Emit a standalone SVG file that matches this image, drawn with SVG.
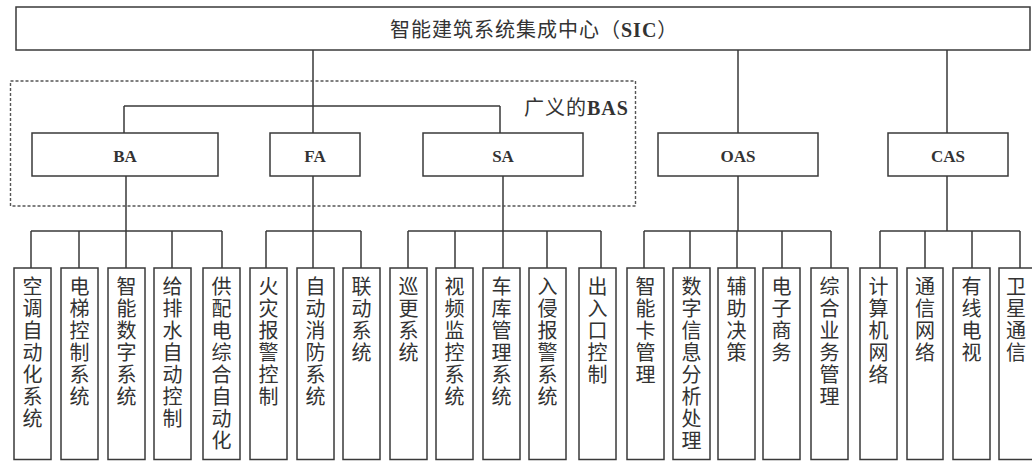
<svg xmlns="http://www.w3.org/2000/svg" width="1032" height="461" viewBox="0 0 1032 461">
<style>
.box{fill:#fff;stroke:#3a3a3a;stroke-width:1.5}
.dash{fill:none;stroke:#555;stroke-width:1.4;stroke-dasharray:3 2}
.ln{fill:none;stroke:#3a3a3a;stroke-width:1.5}
.lat{font-family:'Liberation Serif','Noto Sans CJK SC',serif;font-weight:bold;font-size:17px;fill:#333;text-anchor:middle}
.cjk{font-family:'Noto Sans CJK SC',sans-serif;font-size:20px;fill:#333;writing-mode:vertical-rl;letter-spacing:2px}
.title{font-family:'Liberation Serif','Noto Sans CJK SC',serif;font-size:20px;fill:#333}
</style>
<rect width="1032" height="461" fill="#fff"/>
<g id="connectors">
<path class="ln" d="M313 50V133M124 106H500M124 106V133M500 106V133M738 50V133M947 50V133"/>
<path class="ln" d="M126 176V231M31 231H222M31 231V268M79 231V268M126 231V268M172 231V268M222 231V268"/>
<path class="ln" d="M313 176V231M266 231H361M266 231V268M313 231V268M361 231V268"/>
<path class="ln" d="M503 176V231M408 231H601M408 231V268M455 231V268M503 231V268M547 231V268M601 231V268"/>
<path class="ln" d="M738 176V231M644 231H831M644 231V268M690 231V268M737 231V268M782 231V268M831 231V268"/>
<path class="ln" d="M947 176V231M880 231H1020M880 231V268M925 231V268M972 231V268M1020 231V268"/>
</g>
<g id="sic"><rect class="box" x="16" y="7" width="1014" height="43"/>
<text class="title" x="390" y="37" letter-spacing="1">智能建筑系统集成中心（<tspan font-weight="bold">SIC</tspan>）</text></g>
<g id="bas-group"><rect class="dash" x="10.5" y="81" width="625" height="125"/>
<text class="title" x="524" y="115" font-size="19" letter-spacing="1">广义的<tspan font-weight="bold">BAS</tspan></text></g>
<g id="ba"><rect class="box" x="32" y="133" width="186" height="43"/><text class="lat" x="125" y="162">BA</text></g>
<g id="fa"><rect class="box" x="270" y="133" width="90" height="43"/><text class="lat" x="315" y="162">FA</text></g>
<g id="sa"><rect class="box" x="423" y="133" width="160" height="43"/><text class="lat" x="503" y="162">SA</text></g>
<g id="oas"><rect class="box" x="658" y="133" width="160" height="43"/><text class="lat" x="738" y="162">OAS</text></g>
<g id="cas"><rect class="box" x="888" y="133" width="120" height="43"/><text class="lat" x="948" y="162">CAS</text></g>

<g id="n1"><rect class="box" x="14" y="268" width="37" height="191.5"/><text class="cjk" x="32.5" y="276">空调自动化系统</text></g>
<g id="n2"><rect class="box" x="61" y="268" width="37" height="191.5"/><text class="cjk" x="79.5" y="276">电梯控制系统</text></g>
<g id="n3"><rect class="box" x="108" y="268" width="37" height="191.5"/><text class="cjk" x="126.5" y="276">智能数字系统</text></g>
<g id="n4"><rect class="box" x="154" y="268" width="37" height="191.5"/><text class="cjk" x="172.5" y="276">给排水自动控制</text></g>
<g id="n5"><rect class="box" x="203" y="268" width="37" height="191.5"/><text class="cjk" x="221.5" y="276">供配电综合自动化</text></g>
<g id="n6"><rect class="box" x="250" y="268" width="37" height="191.5"/><text class="cjk" x="268.5" y="276">火灾报警控制</text></g>
<g id="n7"><rect class="box" x="297" y="268" width="37" height="191.5"/><text class="cjk" x="315.5" y="276">自动消防系统</text></g>
<g id="n8"><rect class="box" x="343" y="268" width="37" height="191.5"/><text class="cjk" x="361.5" y="276">联动系统</text></g>
<g id="n9"><rect class="box" x="390" y="268" width="37" height="191.5"/><text class="cjk" x="408.5" y="276">巡更系统</text></g>
<g id="n10"><rect class="box" x="436" y="268" width="37" height="191.5"/><text class="cjk" x="454.5" y="276">视频监控系统</text></g>
<g id="n11"><rect class="box" x="483" y="268" width="37" height="191.5"/><text class="cjk" x="501.5" y="276">车库管理系统</text></g>
<g id="n12"><rect class="box" x="529" y="268" width="37" height="191.5"/><text class="cjk" x="547.5" y="276">入侵报警系统</text></g>
<g id="n13"><rect class="box" x="579" y="268" width="37" height="191.5"/><text class="cjk" x="597.5" y="276">出入口控制</text></g>
<g id="n14"><rect class="box" x="627" y="268" width="37" height="191.5"/><text class="cjk" x="645.5" y="276">智能卡管理</text></g>
<g id="n15"><rect class="box" x="673" y="268" width="37" height="191.5"/><text class="cjk" x="691.5" y="276">数字信息分析处理</text></g>
<g id="n16"><rect class="box" x="718" y="268" width="37" height="191.5"/><text class="cjk" x="736.5" y="276">辅助决策</text></g>
<g id="n17"><rect class="box" x="763" y="268" width="37" height="191.5"/><text class="cjk" x="781.5" y="276">电子商务</text></g>
<g id="n18"><rect class="box" x="811" y="268" width="37" height="191.5"/><text class="cjk" x="829.5" y="276">综合业务管理</text></g>
<g id="n19"><rect class="box" x="860" y="268" width="37" height="191.5"/><text class="cjk" x="878.5" y="276">计算机网络</text></g>
<g id="n20"><rect class="box" x="907" y="268" width="36" height="191.5"/><text class="cjk" x="925" y="276">通信网络</text></g>
<g id="n21"><rect class="box" x="953" y="268" width="37" height="191.5"/><text class="cjk" x="971.5" y="276">有线电视</text></g>
<g id="n22"><rect class="box" x="999" y="268" width="40" height="191.5"/><text class="cjk" x="1016" y="276">卫星通信</text></g>
</svg>
